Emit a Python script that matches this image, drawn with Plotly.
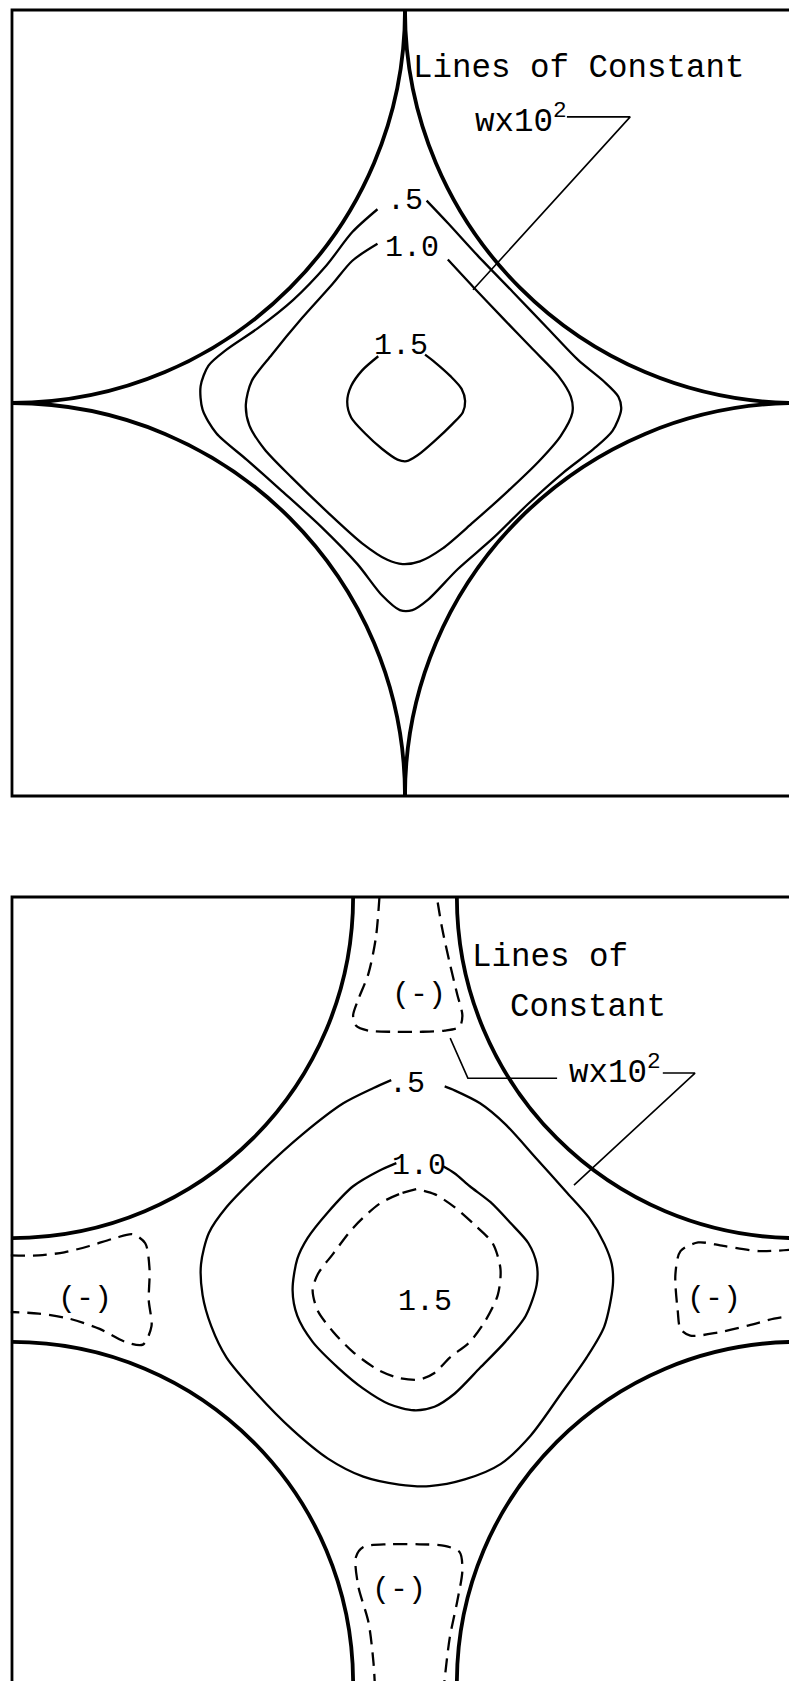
import plotly.graph_objects as go

# Each panel is one unit cell spanning -1..1 in both directions.
# Radii of the circular boundary arcs centred on the cell corners.
R_TOP = 1.0
R_BOTTOM = 0.868

# ---------------- upper cell: contour lines of w x 10^2 ----------------
top_c05_x = [-0.070, -0.134, -0.200, -0.285, -0.375, -0.455, -0.500, -0.520, -0.515, -0.480,
             -0.403, -0.313, -0.211, -0.121, -0.058, -0.013, 0.019, 0.058, 0.134, 0.224,
             0.313, 0.403, 0.480, 0.528, 0.550, 0.543, 0.505, 0.441, 0.364, 0.275,
             0.185, 0.109, 0.055]
top_c05_y = [0.493, 0.435, 0.350, 0.262, 0.190, 0.135, 0.095, 0.043, -0.017, -0.077,
             -0.144, -0.224, -0.317, -0.410, -0.490, -0.527, -0.527, -0.501, -0.423, -0.344,
             -0.257, -0.177, -0.117, -0.071, -0.017, 0.016, 0.056, 0.109, 0.189, 0.282,
             0.375, 0.458, 0.515]

top_c10_x = [-0.070, -0.134, -0.185, -0.262, -0.339, -0.390, -0.405, -0.396, -0.358, -0.288,
             -0.198, -0.109, -0.045, -0.006, 0.038, 0.096, 0.173, 0.262, 0.339, 0.396,
             0.426, 0.422, 0.390, 0.326, 0.249, 0.173, 0.109]
top_c10_y = [0.405, 0.362, 0.302, 0.216, 0.123, 0.056, -0.004, -0.057, -0.117, -0.190,
             -0.277, -0.357, -0.399, -0.410, -0.403, -0.370, -0.304, -0.224, -0.150, -0.084,
             -0.024, 0.016, 0.069, 0.136, 0.216, 0.296, 0.365]

top_c15_x = [-0.068, -0.109, -0.137, -0.147, -0.137, -0.102, -0.058, -0.019, 0.004, 0.032,
             0.077, 0.121, 0.147, 0.153, 0.144, 0.115, 0.077, 0.051]
top_c15_y = [0.119, 0.083, 0.043, 0.003, -0.037, -0.077, -0.117, -0.144, -0.148, -0.133,
             -0.095, -0.053, -0.024, 0.005, 0.036, 0.069, 0.103, 0.123]

top_labels = [".5", "1.0", "1.5"]
top_label_x = [0.000, 0.019, -0.010]
top_label_y = [0.515, 0.395, 0.146]

top_leader_x = [0.412, 0.573, 0.173]
top_leader_y = [0.728, 0.728, 0.288]

# ---------------- lower cell ----------------
bot_c05_x = [-0.035, -0.080, -0.157, -0.261, -0.364, -0.454, -0.499, -0.519, -0.515, -0.493,
             -0.454, -0.377, -0.286, -0.196, -0.106, -0.015, 0.062, 0.152, 0.243, 0.320,
             0.397, 0.462, 0.507, 0.529, 0.526, 0.507, 0.468, 0.410, 0.333, 0.255,
             0.191, 0.126, 0.101]
bot_c05_y = [0.534, 0.514, 0.475, 0.396, 0.303, 0.211, 0.145, 0.066, -0.013, -0.092,
             -0.172, -0.264, -0.356, -0.429, -0.475, -0.495, -0.499, -0.482, -0.443, -0.370,
             -0.264, -0.172, -0.093, 0.013, 0.066, 0.118, 0.184, 0.250, 0.336, 0.422,
             0.475, 0.508, 0.518]

bot_c10_x = [-0.022, -0.067, -0.132, -0.196, -0.248, -0.274, -0.286, -0.274, -0.235, -0.170,
             -0.106, -0.041, 0.023, 0.075, 0.126, 0.191, 0.255, 0.307, 0.335, 0.335,
             0.314, 0.268, 0.217, 0.165, 0.126, 0.098]
bot_c10_y = [0.323, 0.303, 0.264, 0.198, 0.132, 0.079, 0.000, -0.066, -0.132, -0.198,
             -0.251, -0.290, -0.306, -0.297, -0.264, -0.198, -0.132, -0.066, 0.013, 0.066,
             0.119, 0.171, 0.224, 0.264, 0.297, 0.314]

bot_c15_x = [0.030, -0.015, -0.067, -0.132, -0.183, -0.222, -0.235, -0.222, -0.183, -0.132,
             -0.067, -0.015, 0.036, 0.075, 0.114, 0.165, 0.204, 0.236, 0.243, 0.223,
             0.178, 0.126, 0.075, 0.030]
bot_c15_y = [0.257, 0.244, 0.218, 0.158, 0.092, 0.040, 0.000, -0.053, -0.106, -0.158,
             -0.204, -0.224, -0.228, -0.211, -0.172, -0.132, -0.079, -0.013, 0.053, 0.119,
             0.165, 0.211, 0.244, 0.257]

# negative regions in the four channels
neg_top_x = [-0.065, -0.074, -0.093, -0.119, -0.132, -0.125, -0.093, -0.028, 0.036, 0.101,
             0.139, 0.146, 0.133, 0.114, 0.094, 0.081]
neg_top_y = [1.000, 0.897, 0.805, 0.739, 0.699, 0.673, 0.660, 0.657, 0.657, 0.660,
             0.670, 0.699, 0.752, 0.831, 0.923, 1.000]

neg_bottom_x = [-0.074, -0.080, -0.093, -0.119, -0.125, -0.106, -0.041, 0.036, 0.101, 0.139,
                0.146, 0.133, 0.114, 0.101, 0.094]
neg_bottom_y = [-1.069, -0.950, -0.845, -0.753, -0.680, -0.654, -0.647, -0.647, -0.651, -0.667,
                -0.713, -0.792, -0.884, -0.990, -1.069]

neg_left_x = [-1.003, -0.932, -0.867, -0.803, -0.738, -0.693, -0.661, -0.650, -0.652, -0.645,
              -0.667, -0.712, -0.777, -0.854, -0.932, -1.003]
neg_left_y = [0.088, 0.088, 0.096, 0.112, 0.132, 0.142, 0.119, 0.053, -0.026, -0.092,
              -0.139, -0.132, -0.099, -0.073, -0.060, -0.056]

neg_right_x = [0.988, 0.901, 0.810, 0.746, 0.701, 0.688, 0.694, 0.701, 0.726, 0.797,
               0.875, 0.939, 0.988]
neg_right_y = [0.103, 0.099, 0.112, 0.121, 0.099, 0.039, -0.053, -0.099, -0.116, -0.108,
               -0.090, -0.073, -0.066]

bot_labels = [".5", "1.0", "1.5", "(-)", "(-)", "(-)", "(-)"]
bot_label_x = [0.004, 0.036, 0.050, 0.036, -0.015, -0.815, 0.785]
bot_label_y = [0.525, 0.316, -0.030, 0.750, -0.763, -0.024, -0.024]

bot_leader1_x = [0.115, 0.160, 0.387]
bot_leader1_y = [0.641, 0.539, 0.539]
bot_leader2_x = [0.656, 0.738, 0.430]
bot_leader2_y = [0.552, 0.552, 0.267]

FONT = dict(family="Liberation Mono, Courier New, monospace", size=32.5, color="black")
LABEL_FONT = dict(family="Liberation Mono, Courier New, monospace", size=30, color="black")

fig = go.Figure()


def add_curve(xs, ys, panel, dash="solid", width=2.3, closed=False, smooth=True):
    xs, ys = list(xs), list(ys)
    if closed:
        xs.append(xs[0])
        ys.append(ys[0])
    ax = ("x", "y") if panel == 1 else ("x2", "y2")
    fig.add_trace(go.Scatter(
        x=xs, y=ys, mode="lines", xaxis=ax[0], yaxis=ax[1],
        line=dict(color="black", width=width, dash=dash,
                  shape="spline" if smooth else "linear", smoothing=0.8),
        hoverinfo="skip", showlegend=False))


# contour lines
add_curve(top_c05_x, top_c05_y, 1)
add_curve(top_c10_x, top_c10_y, 1)
add_curve(top_c15_x, top_c15_y, 1)
add_curve(top_leader_x, top_leader_y, 1, width=1.6, smooth=False)

DASH = "14px,8px"
add_curve(bot_c05_x, bot_c05_y, 2)
add_curve(bot_c10_x, bot_c10_y, 2)
add_curve(bot_c15_x, bot_c15_y, 2, dash=DASH, closed=True)
add_curve(neg_top_x, neg_top_y, 2, dash=DASH)
add_curve(neg_bottom_x, neg_bottom_y, 2, dash=DASH)
add_curve(neg_left_x, neg_left_y, 2, dash=DASH)
add_curve(neg_right_x, neg_right_y, 2, dash=DASH)
add_curve(bot_leader1_x, bot_leader1_y, 2, width=1.6, smooth=False)
add_curve(bot_leader2_x, bot_leader2_y, 2, width=1.6, smooth=False)

# boundary arcs: quarter circles about each corner (cubic Bezier form)
KAPPA = 0.5523
CORNERS = [(-1, 1), (1, 1), (-1, -1), (1, -1)]


def arc_path(cx, cy, r):
    sx = -1 if cx > 0 else 1
    sy = -1 if cy > 0 else 1
    return (f"M {cx + sx * r},{cy} "
            f"C {cx + sx * r},{cy + sy * KAPPA * r} "
            f"{cx + sx * KAPPA * r},{cy + sy * r} "
            f"{cx},{cy + sy * r}")


shapes = []
for panel, r in ((1, R_TOP), (2, R_BOTTOM)):
    xr, yr = ("x", "y") if panel == 1 else ("x2", "y2")
    shapes.append(dict(type="rect", xref=xr, yref=yr, x0=-1, y0=-1, x1=1, y1=1,
                       line=dict(color="black", width=2.8), layer="above"))
    for cx, cy in CORNERS:
        shapes.append(dict(type="path", xref=xr, yref=yr, path=arc_path(cx, cy, r),
                           line=dict(color="black", width=3.8), layer="above"))

annotations = []
for t, x, y in zip(top_labels, top_label_x, top_label_y):
    annotations.append(dict(text=t, x=x, y=y, xref="x", yref="y", showarrow=False,
                            font=LABEL_FONT, xanchor="center", yanchor="middle"))
for t, x, y in zip(bot_labels, bot_label_x, bot_label_y):
    annotations.append(dict(text=t, x=x, y=y, xref="x2", yref="y2", showarrow=False,
                            font=LABEL_FONT, xanchor="center", yanchor="middle"))

annotations += [
    dict(text="Lines of Constant", x=0.015, y=0.852, xref="x", yref="y",
         showarrow=False, font=FONT, xanchor="left", yanchor="middle"),
    dict(text="wx10<sup>2</sup>", x=0.172, y=0.722, xref="x", yref="y",
         showarrow=False, font=FONT, xanchor="left", yanchor="middle"),
    dict(text="Lines of", x=0.165, y=0.847, xref="x2", yref="y2",
         showarrow=False, font=FONT, xanchor="left", yanchor="middle"),
    dict(text="Constant", x=0.262, y=0.718, xref="x2", yref="y2",
         showarrow=False, font=FONT, xanchor="left", yanchor="middle"),
    dict(text="wx10<sup>2</sup>", x=0.412, y=0.558, xref="x2", yref="y2",
         showarrow=False, font=FONT, xanchor="left", yanchor="middle"),
]

fig.update_layout(
    width=789, height=1681,
    margin=dict(l=0, r=0, t=0, b=0, pad=0),
    paper_bgcolor="white", plot_bgcolor="white",
    showlegend=False,
    xaxis=dict(domain=[0, 1], range=[-1.0305, 0.9771], visible=False, anchor="y"),
    yaxis=dict(domain=[0.49613, 1], range=[-1.12977, 1.02545], visible=False, anchor="x"),
    xaxis2=dict(domain=[0, 1], range=[-1.0305, 0.9771], visible=False, anchor="y2"),
    yaxis2=dict(domain=[0, 0.49613], range=[-0.99491, 1.12723], visible=False, anchor="x2"),
    shapes=shapes,
    annotations=annotations,
)

fig.write_html("out.html")
